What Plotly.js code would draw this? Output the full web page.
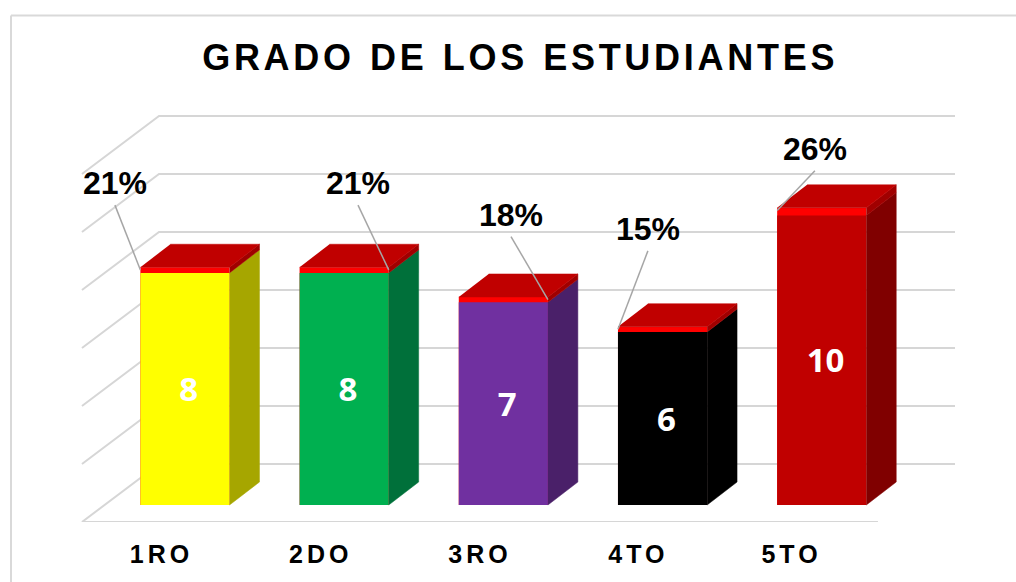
<!DOCTYPE html>
<html>
<head>
<meta charset="utf-8">
<script src="https://cdn.plot.ly/plotly-3.0.1.min.js"></script>
<style>
  html, body { margin: 0; padding: 0; background: #fff; overflow: hidden; }
  #chart { width: 1016px; height: 582px; }
  .gtitle { letter-spacing: 3.73px; word-spacing: 1.5px; }
  .xtick text { letter-spacing: 4px; }
</style>
</head>
<body>
<div id="chart"></div>
<script>
var categories = ['1RO', '2DO', '3RO', '4TO', '5TO'];
var students = [8, 8, 7, 6, 10];
var percents = ['21%', '21%', '18%', '15%', '26%'];
var frontColors = ['#ffff00', '#00b050', '#7030a0', '#000000', '#c00000'];
var sideColors = ['#a6a600', '#00703a', '#4a2069', '#000000', '#800000'];
var gridLevels = [0, 2, 4, 6, 8, 10, 12];

// fake 3D: depth offsets in axis units (1 category, 1 student)
var barWidth = 0.56;
var depthX = 0.188, depthY = 0.774;
var capHeight = [0.19, 0.19, 0.18, 0.18, 0.26];

// percent label placement relative to each bar
var labelShiftX = [-0.44, 0.087, 0.048, -0.092, -0.043];
var labelLift = [2.72, 2.72, 2.66, 3.18, 1.88];
var leaderSide = [-1, 1, 1, -1, -1];
var tickShift = [-0.147, -0.147, -0.147, -0.152, -0.19];

// walls of the box, in x units and grid units (y axis)
var wallLeft = -0.647, wallRight = 4.353, wallDepthX = 0.484, wallDepthY = 2;

var traces = [];

function poly(xs, ys, color) {
  return {
    x: xs, y: ys, yaxis: 'y2', mode: 'lines', fill: 'toself', fillcolor: color,
    line: {color: color, width: 0.5}, hoverinfo: 'skip', showlegend: false
  };
}

// grid lines on the side and back walls
gridLevels.forEach(function(level) {
  var xs = [wallLeft, wallLeft + wallDepthX, wallRight + wallDepthX];
  var ys = [level, level + wallDepthY, level + wallDepthY];
  traces.push({
    x: xs, y: ys, mode: 'lines',
    line: {color: '#d6d6d6', width: 2},
    hoverinfo: 'skip', showlegend: false
  });
});
// front edge of the floor
traces.push({
  x: [wallLeft, wallRight], y: [0, 0], mode: 'lines',
  line: {color: '#d6d6d6', width: 2},
  hoverinfo: 'skip', showlegend: false, cliponaxis: false
});

var idx = categories.map(function(c, i) { return i; });

// red strip at the top of each front face
traces.push({
  type: 'bar', x: idx, y: students, yaxis: 'y2', width: barWidth,
  marker: {color: '#ff0000', line: {width: 0}}, hoverinfo: 'skip', showlegend: false
});
traces.push({
  type: 'bar', x: idx, yaxis: 'y2', width: barWidth,
  y: students.map(function(v, i) { return v - capHeight[i]; }),
  marker: {color: frontColors, line: {width: 0}},
  hoverinfo: 'skip', showlegend: false
});

students.forEach(function(v, i) {
  var l = i - barWidth / 2, r = i + barWidth / 2;
  var low = v - capHeight[i];
  traces.push(poly([r, r + depthX, r + depthX, r], [0, depthY, low + depthY, low], sideColors[i]));
  traces.push(poly([r, r + depthX, r + depthX, r], [low, low + depthY, v + depthY, v], '#a00000'));
  traces.push(poly([l, r, r + depthX, l + depthX], [v, v, v + depthY, v + depthY], '#c00000'));

  // leader line from the percent label to the bar corner
  traces.push({
    x: [i + labelShiftX[i], i + leaderSide[i] * barWidth / 2],
    y: [v + labelLift[i] - 0.63, v - 0.09],
    yaxis: 'y2', mode: 'lines',
    line: {color: '#a6a6a6', width: 1.5},
    hoverinfo: 'skip', showlegend: false
  });
});

// counts inside the bars
traces.push({
  x: idx.map(function(i) { return i + 0.024; }),
  y: students.map(function(v, i) { return (v - capHeight[i]) / 2 - 0.13; }),
  yaxis: 'y2', mode: 'text', text: students.map(String), textposition: 'middle center',
  textfont: {family: 'Open Sans, sans-serif', size: 33, color: '#ffffff', weight: 700},
  hoverinfo: 'skip', showlegend: false
});

traces.push({
  x: idx.map(function(i) { return i + labelShiftX[i]; }),
  y: students.map(function(v, i) { return v + labelLift[i]; }),
  yaxis: 'y2', mode: 'text', text: percents, textposition: 'middle center',
  textfont: {family: 'Liberation Sans, Arial, sans-serif', size: 32, color: '#000000', weight: 700},
  hoverinfo: 'skip', showlegend: false, cliponaxis: false
});

var layout = {
  width: 1016,
  height: 582,
  margin: {l: 60, r: 40, t: 100, b: 60},
  paper_bgcolor: '#ffffff',
  plot_bgcolor: 'rgba(0,0,0,0)',
  showlegend: false,
  barmode: 'overlay',
  title: {
    text: 'GRADO DE LOS ESTUDIANTES',
    xref: 'container', yref: 'container',
    x: 0.512, xanchor: 'center', y: 0.902, yanchor: 'middle',
    font: {family: 'Liberation Sans, Arial, sans-serif', size: 36, color: '#000000', weight: 700}
  },
  xaxis: {
    range: [-0.785, 4.969],
    tickmode: 'array',
    tickvals: idx.map(function(i) { return i + tickShift[i]; }),
    ticktext: categories,
    tickfont: {family: 'Liberation Sans, Arial, sans-serif', size: 25, color: '#000000', weight: 700},
    ticks: 'outside', ticklen: 10, tickcolor: 'rgba(0,0,0,0)',
    showgrid: false, zeroline: false, showline: false
  },
  yaxis: {
    // grid units: 0 on the front floor edge
    range: [0, 14.552],
    visible: false, fixedrange: true
  },
  yaxis2: {
    // student counts: front faces stand on 0
    range: [-0.572, 13.627],
    overlaying: 'y', side: 'left',
    visible: false, fixedrange: true
  },
  shapes: [
    // outer frame of the slide
    {type: 'line', xref: 'paper', yref: 'paper', x0: -0.0535, x1: 1.048, y0: 1.2, y1: 1.2, line: {color: '#d9d9d9', width: 2}},
    {type: 'line', xref: 'paper', yref: 'paper', x0: -0.0535, x1: -0.0535, y0: 1.2, y1: -0.15, line: {color: '#d9d9d9', width: 2}}
  ]
};

Plotly.newPlot('chart', traces, layout, {displayModeBar: false, staticPlot: true});
</script>
</body>
</html>
